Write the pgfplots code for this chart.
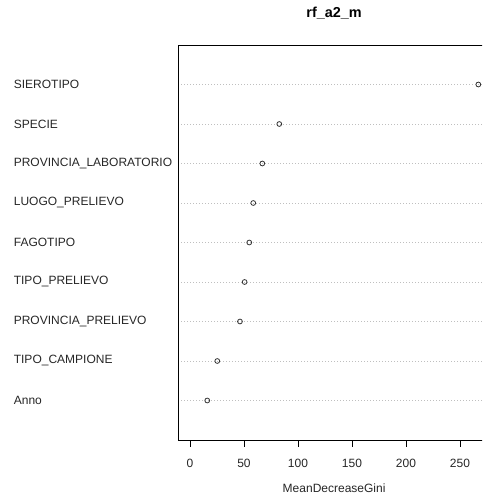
\documentclass[border=0pt]{standalone}
\usepackage{pgfplots}
\pgfplotsset{compat=1.18}
\usepackage{fontspec}
\setmainfont{Liberation Sans}

% Variable importance (mean decrease in Gini), ordered from least to most important
\pgfplotstableread{
y  imp
1  16.0
2  25.3
3  46.3
4  50.6
5  54.9
6  58.6
7  67.0
8  82.7
9  267.0
}\impdata

\begin{document}
\begin{tikzpicture}[x=1pt,y=1pt]
\begin{scope}
\clip (0,0) rectangle (482,495);
\begin{axis}[
  at={(178.3pt,55pt)}, anchor=south west,
  scale only axis, width=311.6pt, height=395pt,
  xmin=-10.8, xmax=277.7, ymin=0, ymax=10,
  axis line style={black, line width=0.8pt},
  xtick={0,50,100,150,200,250},
  ytick={1,...,9},
  yticklabels={Anno,TIPO\_CAMPIONE,PROVINCIA\_PRELIEVO,TIPO\_PRELIEVO,FAGOTIPO,LUOGO\_PRELIEVO,PROVINCIA\_LABORATORIO,SPECIE,SIEROTIPO},
  tick align=outside,
  major tick length=7pt,
  xtick pos=bottom,
  ytick style={draw=none},
  xtick style={black, line width=0.8pt},
  /pgf/number format/assume math mode=true,
  tick label style={font=\fontsize{12}{14}\selectfont, text=black!85},
  xticklabel style={anchor=base, yshift=-20.5pt},
  yticklabel style={anchor=west, xshift=-161pt},
  ymajorgrids,
  major grid style={draw=black!25, dash pattern=on 1pt off 2pt, line width=0.7pt},
  xlabel={MeanDecreaseGini},
  xlabel style={font=\fontsize{12}{14}\selectfont, inner sep=0pt, anchor=base, at={(axis description cs:0.5,0)}, yshift=-52.5pt, text=black!85},
  title={rf\_a2\_m},
  title style={font=\fontsize{14.4}{16}\selectfont\bfseries, anchor=base, at={(axis description cs:0.5,1)}, yshift=21pt},
]
\addplot[only marks, mark=o, mark size=2.4pt, mark options={draw=black!80, line width=0.8pt}] table[x=imp, y=y] {\impdata};
\end{axis}
\end{scope}
\pgfresetboundingbox
\useasboundingbox (0,0) rectangle (482,495);
\end{tikzpicture}
\end{document}
